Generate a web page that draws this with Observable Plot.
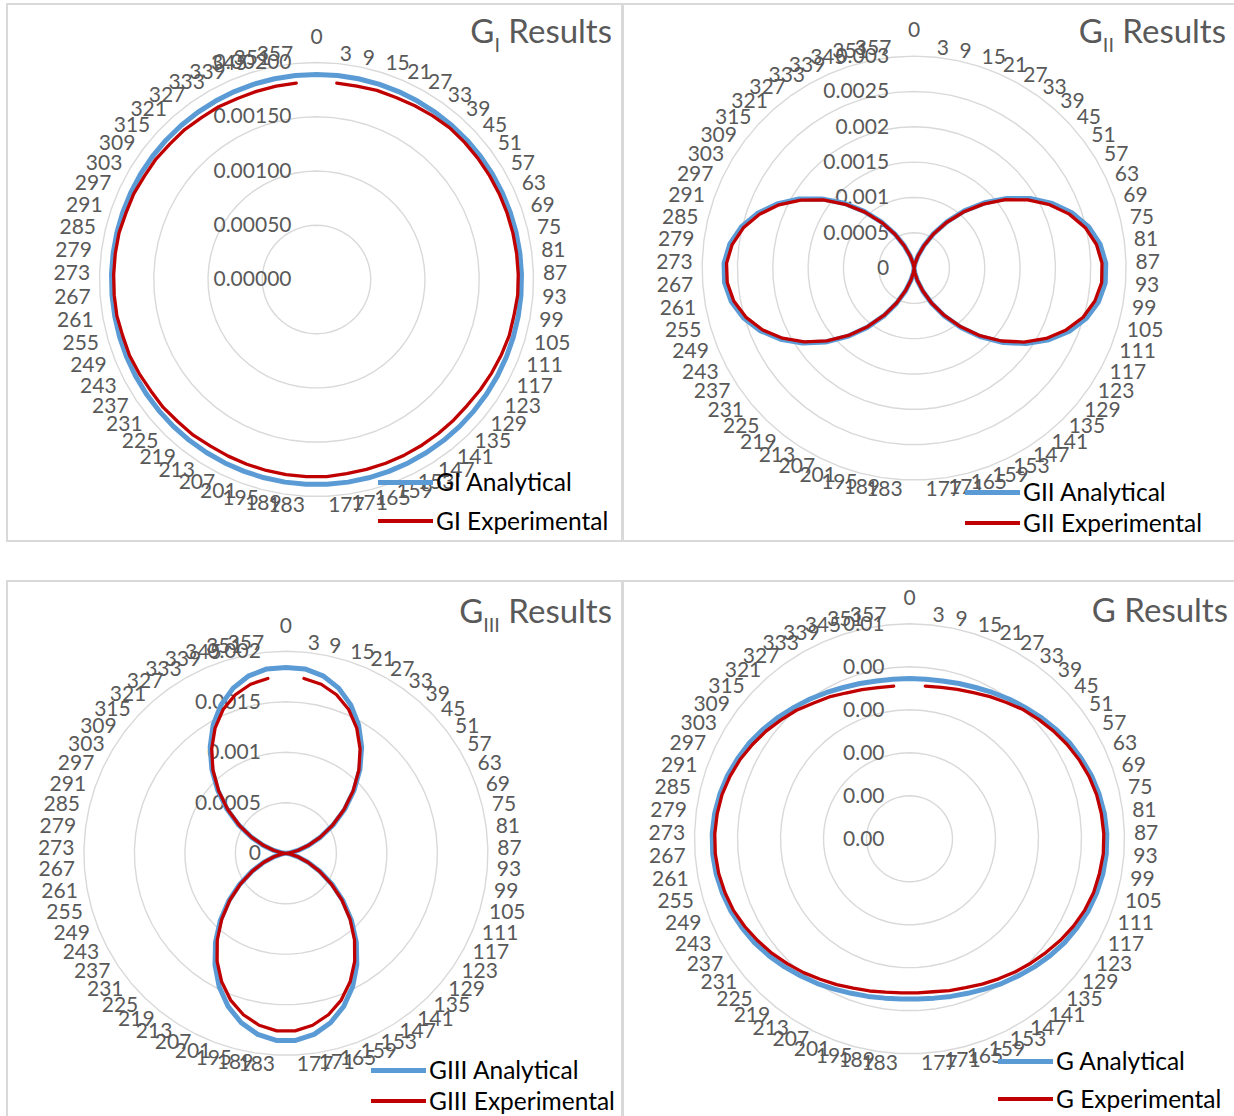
<!DOCTYPE html>
<html><head><meta charset="utf-8">
<script src="https://cdn.jsdelivr.net/npm/d3@7"></script>
<script src="https://cdn.jsdelivr.net/npm/@observablehq/plot@0.6"></script>
<style>
body{margin:0;background:#fff;}
#page{position:relative;width:1234px;height:1116px;overflow:hidden;font-family:Lato,"Open Sans",sans-serif;background:#fff;}
.chart{position:absolute;}
.chart svg{background:transparent;overflow:visible;}
.panel{position:absolute;border:2px solid #d9d9d9;box-sizing:border-box;pointer-events:none;}
.title{position:absolute;color:#595959;font-size:33px;white-space:nowrap;line-height:40px;height:40px;text-align:right;}
.title sub{font-size:0.6em;vertical-align:-0.45em;line-height:0;}
.lg-line{position:absolute;}
.lg-text{position:absolute;color:#000;font-size:24.5px;white-space:nowrap;line-height:30px;height:30px;}
</style></head>
<body><div id="page"></div>
<script>
const categories = [0,3,9,15,21,27,33,39,45,51,57,63,69,75,81,87,93,99,105,111,117,123,129,135,141,147,153,159,165,171,177,183,189,195,201,207,213,219,225,231,237,243,249,255,261,267,273,279,285,291,297,303,309,315,321,327,333,339,345,351,357];

const giAnalytical = [0.00189,
 0.00189,0.00189,0.00189,0.00189,0.00189,0.00189,0.00189,0.00189,0.00189,0.00189,
 0.00189,0.00189,0.00189,0.00189,0.00189,0.00189,0.00189,0.00189,0.00189,0.00189,
 0.00189,0.00189,0.00189,0.00189,0.00189,0.00189,0.00189,0.00189,0.00189,0.00189,
 0.00189,0.00189,0.00189,0.00189,0.00189,0.00189,0.00189,0.00189,0.00189,0.00189,
 0.00189,0.00189,0.00189,0.00189,0.00189,0.00189,0.00189,0.00189,0.00189,0.00189,
 0.00189,0.00189,0.00189,0.00189,0.00189,0.00189,0.00189,0.00189,0.00189,0.00189];
const giExperimental = [null,
 0.00182,0.00182,0.00183,0.00183,0.00184,0.00185,0.00186,0.00186,0.00186,0.00186,
 0.00186,0.00186,0.00186,0.00186,0.00186,0.00186,0.00185,0.00185,0.00184,0.00183,
 0.00182,0.00181,0.00181,0.00181,0.00181,0.00181,0.00181,0.00181,0.00181,0.00182,
 0.00182,0.00182,0.00182,0.00182,0.00182,0.00182,0.00183,0.00183,0.00184,0.00184,
 0.00185,0.00186,0.00186,0.00187,0.00187,0.00187,0.00187,0.00187,0.00186,0.00186,
 0.00185,0.00185,0.00184,0.00184,0.00183,0.00183,0.00182,0.00182,0.00182,0.00182];

const giiAnalytical = [0,
 0.000008,0.000067,0.000182,0.000349,0.000561,0.000807,0.001077,0.001360,0.001643,0.001913,
 0.002159,0.002371,0.002538,0.002653,0.002713,0.002713,0.002653,0.002538,0.002371,0.002159,
 0.001913,0.001643,0.001360,0.001077,0.000807,0.000561,0.000349,0.000182,0.000067,0.000008,
 0.000008,0.000066,0.000181,0.000347,0.000558,0.000802,0.001070,0.001350,0.001632,0.001900,
 0.002140,0.002350,0.002515,0.002630,0.002690,0.002690,0.002630,0.002515,0.002350,0.002140,
 0.001900,0.001632,0.001350,0.001070,0.000802,0.000558,0.000347,0.000181,0.000066,0.000008];
const giiExperimental = [null,
 0.000007,0.000065,0.000178,0.000342,0.000550,0.000792,0.001056,0.001333,0.001612,0.001876,
 0.002117,0.002325,0.002489,0.002602,0.002660,0.002662,0.002600,0.002490,0.002322,0.002118,
 0.001874,0.001610,0.001335,0.001055,0.000790,0.000552,0.000340,0.000178,0.000065,0.000007,
 0.000007,0.000064,0.000177,0.000340,0.000548,0.000790,0.001052,0.001330,0.001606,0.001872,
 0.002110,0.002318,0.002480,0.002594,0.002652,0.002655,0.002596,0.002482,0.002316,0.002112,
 0.001870,0.001608,0.001330,0.001054,0.000790,0.000549,0.000341,0.000178,0.000065,0.000007];

const giiiAnalytical = [0.00184,
 0.001835,0.001795,0.001717,0.001604,0.001461,0.001294,0.001111,0.000920,0.000729,0.000546,
 0.000379,0.000236,0.000123,0.000045,0.000005,0.000005,0.000046,0.000125,0.000239,0.000383,
 0.000552,0.000737,0.000930,0.001123,0.001308,0.001477,0.001621,0.001735,0.001814,0.001855,
 0.001855,0.001814,0.001735,0.001621,0.001477,0.001308,0.001123,0.000930,0.000737,0.000552,
 0.000383,0.000239,0.000125,0.000046,0.000005,0.000005,0.000045,0.000123,0.000236,0.000379,
 0.000546,0.000729,0.000920,0.001111,0.001294,0.001461,0.001604,0.001717,0.001795,0.001835];
const giiiExperimental = [null,
 0.001740,0.001710,0.001648,0.001553,0.001424,0.001268,0.001094,0.000906,0.000718,0.000538,
 0.000373,0.000232,0.000121,0.000044,0.000005,0.000005,0.000045,0.000123,0.000235,0.000375,
 0.000541,0.000722,0.000910,0.001095,0.001269,0.001422,0.001553,0.001653,0.001723,0.001760,
 0.001760,0.001723,0.001653,0.001553,0.001422,0.001269,0.001095,0.000910,0.000722,0.000541,
 0.000375,0.000235,0.000123,0.000045,0.000005,0.000005,0.000044,0.000121,0.000232,0.000373,
 0.000538,0.000718,0.000906,0.001094,0.001268,0.001424,0.001553,0.001648,0.001710,0.001740];

const gAnalytical = [0.00373,
 0.00373,0.00375,0.00379,0.00384,0.00391,0.00399,0.00407,0.00416,0.00425,0.00434,
 0.00441,0.00448,0.00453,0.00457,0.00459,0.00459,0.00457,0.00453,0.00448,0.00441,
 0.00434,0.00425,0.00416,0.00407,0.00399,0.00391,0.00384,0.00379,0.00375,0.00373,
 0.00373,0.00375,0.00379,0.00384,0.00391,0.00399,0.00407,0.00416,0.00425,0.00434,
 0.00441,0.00448,0.00453,0.00457,0.00459,0.00459,0.00457,0.00453,0.00448,0.00441,
 0.00434,0.00425,0.00416,0.00407,0.00399,0.00391,0.00384,0.00379,0.00375,0.00373];
const gExperimental = [null,
 0.00357,0.00360,0.00365,0.00371,0.00380,0.00389,0.00400,0.00409,0.00418,0.00427,
 0.00435,0.00442,0.00447,0.00450,0.00452,0.00452,0.00449,0.00446,0.00440,0.00432,
 0.00423,0.00413,0.00404,0.00395,0.00386,0.00378,0.00370,0.00365,0.00360,0.00359,
 0.00359,0.00361,0.00366,0.00371,0.00379,0.00387,0.00397,0.00406,0.00416,0.00425,
 0.00434,0.00442,0.00447,0.00451,0.00453,0.00453,0.00451,0.00448,0.00442,0.00435,
 0.00426,0.00417,0.00407,0.00398,0.00387,0.00379,0.00370,0.00364,0.00359,0.00357];

const giTicks = [0, 0.0005, 0.001, 0.0015, 0.002];
const giTickLabels = ["0.00000","0.00050","0.00100","0.00150","0.00200"];
const giiTicks = [0, 0.0005, 0.001, 0.0015, 0.002, 0.0025, 0.003];
const giiTickLabels = ["0","0.0005","0.001","0.0015","0.002","0.0025","0.003"];
const giiiTicks = [0, 0.0005, 0.001, 0.0015, 0.002];
const giiiTickLabels = ["0","0.0005","0.001","0.0015","0.002"];
const gTicks = [0, 0.001, 0.002, 0.003, 0.004, 0.005];
const gTickLabels = ["0.00","0.00","0.00","0.00","0.00","0.01"];

const BLUE = "#5B9BD5", RED = "#C00000", GRID = "#d9d9d9", LABEL = "#595959";
const FONT = "Lato, 'Open Sans', sans-serif";

const panels = [
  {box:[6,3,617,539], left:7, top:5, width:614, height:536, cx:316, cy:279, R:217, max:0.002,
   ticks:giTicks, tickLabels:giTickLabels, a:giAnalytical, e:giExperimental,
   title:["G","I"], titleRight:612, titleY:30,
   legend:["GI Analytical","GI Experimental"], lgX:378, lgY:[482,521]},
  {box:[622,3,620,539], left:622, top:5, width:612, height:536, cx:913.6, cy:267.6, R:212, max:0.003,
   ticks:giiTicks, tickLabels:giiTickLabels, a:giiAnalytical, e:giiExperimental,
   title:["G","II"], titleRight:1226, titleY:30,
   legend:["GII Analytical","GII Experimental"], lgX:965, lgY:[492,523]},
  {box:[6,580,617,545], left:7, top:581, width:614, height:535, cx:285.4, cy:852.8, R:202, max:0.002,
   ticks:giiiTicks, tickLabels:giiiTickLabels, a:giiiAnalytical, e:giiiExperimental,
   title:["G","III"], titleRight:612, titleY:610,
   legend:["GIII Analytical","GIII Experimental"], lgX:371, lgY:[1070,1101]},
  {box:[622,580,620,545], left:622, top:581, width:612, height:535, cx:909, cy:838.3, R:215, max:0.005,
   ticks:gTicks, tickLabels:gTickLabels, a:gAnalytical, e:gExperimental,
   title:["G",""], titleRight:1228, titleY:609,
   legend:["G Analytical","G Experimental"], lgX:998, lgY:[1061,1099]}
];

const page = document.getElementById("page");
const n = categories.length;
const angle = i => i * 2 * Math.PI / n;

function toPoints(values) {
  return values.map((v, i) => v == null ? {x: NaN, y: NaN}
    : {x: v * Math.sin(angle(i)), y: v * Math.cos(angle(i))});
}

for (const p of panels) {
  const k = p.max / p.R; // data units per pixel
  const ccx = p.cx - p.left, ccy = p.cy - p.top;
  const grid = [];
  p.ticks.filter(t => t > 0).forEach(t => categories.forEach((c, i) =>
    grid.push({t, x: t * Math.sin(angle(i)), y: t * Math.cos(angle(i))})));
  const labR = (p.R + 9.5) * k;
  const labs = categories.map((c, i) => ({label: String(c), a: angle(i),
    x: labR * Math.sin(angle(i)), y: labR * Math.cos(angle(i))}));
  const tickRows = p.ticks.map((t, i) => ({t, label: p.tickLabels[i]}));
  const txt = {x: "x", y: "y", text: "label", fill: LABEL, fontSize: 21, fontFamily: FONT};

  const chart = Plot.plot({
    width: p.width, height: p.height,
    margin: 0,
    x: {domain: [-p.max, p.max], range: [ccx - p.R, ccx + p.R], axis: null},
    y: {domain: [-p.max, p.max], range: [ccy + p.R, ccy - p.R], axis: null},
    style: {background: "transparent", overflow: "visible"},
    marks: [
      Plot.line(grid, {x: "x", y: "y", z: "t", curve: "linear-closed", stroke: GRID, strokeWidth: 1.4}),
      Plot.text(tickRows, {x: () => 0, y: "t", text: "label", textAnchor: "end", dx: -25,
        fill: LABEL, fontSize: 21, fontFamily: FONT}),
      Plot.text(labs.filter(d => d.a === 0), {...txt, textAnchor: "middle", dy: -16}),
      Plot.text(labs.filter(d => d.a > 0 && d.a < Math.PI), {...txt, textAnchor: "start"}),
      Plot.text(labs.filter(d => d.a > Math.PI), {...txt, textAnchor: "end"}),
      Plot.line(toPoints(p.a), {x: "x", y: "y", curve: "linear-closed", stroke: BLUE,
        strokeWidth: 5, strokeLinejoin: "round"}),
      Plot.line(toPoints(p.e), {x: "x", y: "y", curve: "linear", stroke: RED,
        strokeWidth: 3.3, strokeLinejoin: "round"})
    ]
  });
  const holder = document.createElement("div");
  holder.className = "chart";
  holder.style.left = p.left + "px";
  holder.style.top = p.top + "px";
  holder.appendChild(chart);
  page.appendChild(holder);

  const border = document.createElement("div");
  border.className = "panel";
  border.style.left = p.box[0] + "px";
  border.style.top = p.box[1] + "px";
  border.style.width = p.box[2] + "px";
  border.style.height = p.box[3] + "px";
  page.appendChild(border);

  const title = document.createElement("div");
  title.className = "title";
  title.style.right = (1234 - p.titleRight) + "px";
  title.style.top = (p.titleY - 20) + "px";
  title.innerHTML = p.title[0] + (p.title[1] ? "<sub>" + p.title[1] + "</sub>" : "") + " Results";
  page.appendChild(title);

  [[BLUE, 5], [RED, 3.3]].forEach(([col, w], j) => {
    const ln = document.createElement("div");
    ln.className = "lg-line";
    ln.style.left = p.lgX + "px";
    ln.style.width = "55px";
    ln.style.top = (p.lgY[j] - w / 2) + "px";
    ln.style.height = w + "px";
    ln.style.background = col;
    page.appendChild(ln);
    const tx = document.createElement("div");
    tx.className = "lg-text";
    tx.style.left = (p.lgX + 58) + "px";
    tx.style.top = (p.lgY[j] - 15) + "px";
    tx.textContent = p.legend[j];
    page.appendChild(tx);
  });
}
</script>
</body></html>
